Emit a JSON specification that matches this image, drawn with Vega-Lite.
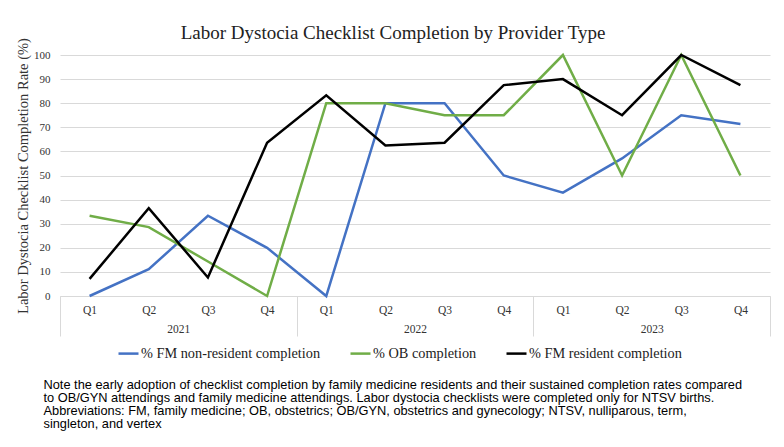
{
  "$schema": "https://vega.github.io/schema/vega-lite/v6.json",
  "background": "white",
  "padding": {"left": 15, "top": 23, "right": 10, "bottom": 5},
  "title": {
    "text": [
      "Note the early adoption of checklist completion by family medicine residents and their sustained completion rates compared",
      "to OB/GYN attendings and family medicine attendings. Labor dystocia checklists were completed only for NTSV births.",
      "Abbreviations: FM, family medicine; OB, obstetrics; OB/GYN, obstetrics and gynecology; NTSV, nulliparous, term,",
      "singleton, and vertex"
    ],
    "orient": "bottom",
    "anchor": "start",
    "font": "Liberation Sans",
    "fontSize": 12.8,
    "fontWeight": "normal",
    "color": "black",
    "lineHeight": 12.9,
    "offset": 18,
    "dx": 28,
    "limit": 0
  },
  "vconcat": [
    {
      "width": 710,
      "height": 241,
      "title": {
        "text": "Labor Dystocia Checklist Completion by Provider Type",
        "font": "Liberation Serif",
        "fontSize": 19,
        "fontWeight": "normal",
        "color": "#222222",
        "anchor": "middle",
        "frame": "bounds",
        "offset": -5
      },
      "data": {
        "values": [
          {"t": 1, "period": "2021 Q1", "series": "% FM non-resident completion", "v": 0},
          {"t": 2, "period": "2021 Q2", "series": "% FM non-resident completion", "v": 11.1},
          {"t": 3, "period": "2021 Q3", "series": "% FM non-resident completion", "v": 33.3},
          {"t": 4, "period": "2021 Q4", "series": "% FM non-resident completion", "v": 20},
          {"t": 5, "period": "2022 Q1", "series": "% FM non-resident completion", "v": 0},
          {"t": 6, "period": "2022 Q2", "series": "% FM non-resident completion", "v": 80},
          {"t": 7, "period": "2022 Q3", "series": "% FM non-resident completion", "v": 80},
          {"t": 8, "period": "2022 Q4", "series": "% FM non-resident completion", "v": 50},
          {"t": 9, "period": "2023 Q1", "series": "% FM non-resident completion", "v": 42.9},
          {"t": 10, "period": "2023 Q2", "series": "% FM non-resident completion", "v": 57.1},
          {"t": 11, "period": "2023 Q3", "series": "% FM non-resident completion", "v": 75},
          {"t": 12, "period": "2023 Q4", "series": "% FM non-resident completion", "v": 71.4},
          {"t": 1, "period": "2021 Q1", "series": "% OB completion", "v": 33.3},
          {"t": 2, "period": "2021 Q2", "series": "% OB completion", "v": 28.6},
          {"t": 3, "period": "2021 Q3", "series": "% OB completion", "v": 14.3},
          {"t": 4, "period": "2021 Q4", "series": "% OB completion", "v": 0},
          {"t": 5, "period": "2022 Q1", "series": "% OB completion", "v": 80},
          {"t": 6, "period": "2022 Q2", "series": "% OB completion", "v": 80},
          {"t": 7, "period": "2022 Q3", "series": "% OB completion", "v": 75},
          {"t": 8, "period": "2022 Q4", "series": "% OB completion", "v": 75},
          {"t": 9, "period": "2023 Q1", "series": "% OB completion", "v": 100},
          {"t": 10, "period": "2023 Q2", "series": "% OB completion", "v": 50},
          {"t": 11, "period": "2023 Q3", "series": "% OB completion", "v": 100},
          {"t": 12, "period": "2023 Q4", "series": "% OB completion", "v": 50},
          {"t": 1, "period": "2021 Q1", "series": "% FM resident completion", "v": 7.1},
          {"t": 2, "period": "2021 Q2", "series": "% FM resident completion", "v": 36.4},
          {"t": 3, "period": "2021 Q3", "series": "% FM resident completion", "v": 7.7},
          {"t": 4, "period": "2021 Q4", "series": "% FM resident completion", "v": 63.6},
          {"t": 5, "period": "2022 Q1", "series": "% FM resident completion", "v": 83.3},
          {"t": 6, "period": "2022 Q2", "series": "% FM resident completion", "v": 62.5},
          {"t": 7, "period": "2022 Q3", "series": "% FM resident completion", "v": 63.6},
          {"t": 8, "period": "2022 Q4", "series": "% FM resident completion", "v": 87.5},
          {"t": 9, "period": "2023 Q1", "series": "% FM resident completion", "v": 90},
          {"t": 10, "period": "2023 Q2", "series": "% FM resident completion", "v": 75},
          {"t": 11, "period": "2023 Q3", "series": "% FM resident completion", "v": 100},
          {"t": 12, "period": "2023 Q4", "series": "% FM resident completion", "v": 87.5}
        ]
      },
      "mark": {"type": "line", "strokeWidth": 2.5, "strokeJoin": "miter"},
      "encoding": {
        "x": {
          "field": "t",
          "type": "quantitative",
          "scale": {"domain": [0.5, 12.5], "nice": false, "zero": false},
          "axis": {
            "title": null,
            "grid": false,
            "values": [0.5, 1, 2, 2.5, 3, 4, 4.5, 5, 6, 6.5, 7, 8, 8.5, 9, 10, 10.5, 11, 12, 12.5],
            "labelExpr": "datum.value == 2.5 ? ['', '2021'] : datum.value == 6.5 ? ['', '2022'] : datum.value == 10.5 ? ['', '2023'] : (datum.value % 4 == 0.5 ? '' : 'Q' + (((datum.value - 1) % 4) + 1))",
            "labelOverlap": false,
            "labelFlush": false,
            "labelBound": false,
            "labelFont": "Liberation Serif",
            "labelFontSize": 11.5,
            "labelColor": "#333333",
            "labelLineHeight": 19.5,
            "labelBaseline": "top",
            "labelPadding": -32,
            "ticks": true,
            "tickSize": 40,
            "tickColor": "#d9d9d9",
            "tickOpacity": {"condition": {"test": "datum.value % 4 == 0.5", "value": 1}, "value": 0},
            "domain": true,
            "domainColor": "#d9d9d9"
          }
        },
        "y": {
          "field": "v",
          "type": "quantitative",
          "scale": {"domain": [0, 100], "nice": false},
          "axis": {
            "title": "Labor Dystocia Checklist Completion Rate (%)",
            "titleFont": "Liberation Serif",
            "titleFontSize": 14.5,
            "titleFontWeight": "normal",
            "titleColor": "#333333",
            "titlePadding": 3,
            "values": [0, 10, 20, 30, 40, 50, 60, 70, 80, 90, 100],
            "labelFont": "Liberation Serif",
            "labelFontSize": 11,
            "labelColor": "#333333",
            "labelPadding": 10,
            "ticks": false,
            "domain": false,
            "grid": true,
            "gridColor": "#d9d9d9"
          }
        },
        "color": {
          "field": "series",
          "type": "nominal",
          "scale": {
            "domain": ["% FM non-resident completion", "% OB completion", "% FM resident completion"],
            "range": ["#4472C4", "#70AD47", "#000000"]
          },
          "legend": {
            "title": null,
            "orient": "none",
            "legendX": 57,
            "legendY": 287,
            "direction": "horizontal",
            "symbolType": "stroke",
            "symbolSize": 400,
            "symbolStrokeWidth": 2.5,
            "labelFont": "Liberation Serif",
            "labelFontSize": 14.3,
            "labelColor": "#222222",
            "labelLimit": 0,
            "labelOffset": 1,
            "columnPadding": 24
          }
        }
      }
    }
  ],
  "config": {
    "view": {"stroke": null}
  }
}
